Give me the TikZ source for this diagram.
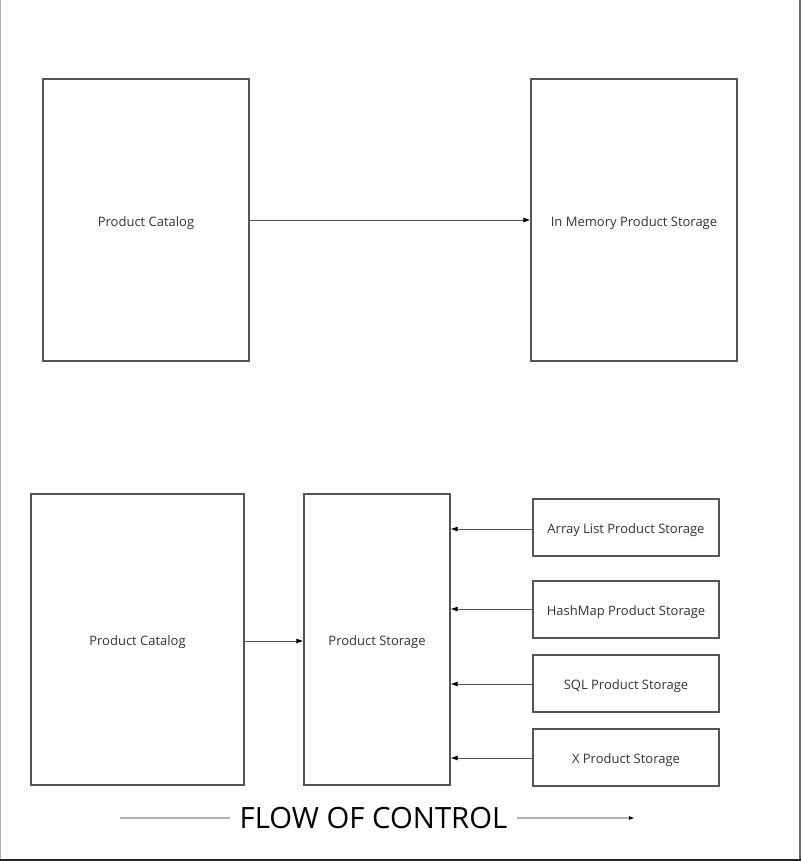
\documentclass[tikz,border=0pt]{standalone}
\usepackage{fontspec}
\setmainfont{Open Sans}
\usetikzlibrary{arrows.meta,calc}
\definecolor{linec}{HTML}{555555}
\definecolor{textc}{HTML}{333333}
\begin{document}
\begin{tikzpicture}[x=1pt,y=-1pt,
  box/.style={draw=linec,line width=1.2pt,inner sep=0pt,text=textc,text height=12pt,text depth=0pt,font=\fontsize{13}{15}\selectfont},
  conn/.style={draw=linec,line width=0.8pt,-{Latex[length=7pt,width=5pt,color=black]}}]
\useasboundingbox (0,0) rectangle (801,861);
\fill[white] (0,0) rectangle (801,861);
% frame
\draw[gray!60,line width=1pt] (0.5,0) -- (0.5,860);
\draw[gray!80!black,line width=1.2pt] (800,0) -- (800,860);
\draw[black!85,line width=2pt] (0,860) -- (801,860);
% top boxes
\node[box,minimum width=206pt,minimum height=282pt] (pc1) at (146,220) {Product Catalog};
\node[box,minimum width=206pt,minimum height=282pt] (ims) at (634,220) {In Memory Product Storage};
\draw[conn] (pc1) -- (ims);
% bottom
\node[box,minimum width=213pt,minimum height=291pt] (pc2) at (137.5,639.5) {Product Catalog};
\node[box,minimum width=146pt,minimum height=291pt] (ps) at (377,639.5) {Product Storage};
\node[box,minimum width=186pt,minimum height=57pt] (al) at (626,527.5) {Array List Product Storage};
\node[box,minimum width=186pt,minimum height=57pt] (hm) at (626,609.5) {HashMap Product Storage};
\node[box,minimum width=186pt,minimum height=57pt] (sql) at (626,683.5) {SQL Product Storage};
\node[box,minimum width=186pt,minimum height=57pt] (xp) at (626,757.5) {X Product Storage};
\draw[conn] (pc2.east |- 0,641) -- (ps.west |- 0,641);
\draw[conn] (al.west |- 0,529) -- (ps.east |- 0,529);
\draw[conn] (hm.west |- 0,609) -- (ps.east |- 0,609);
\draw[conn] (sql.west |- 0,684) -- (ps.east |- 0,684);
\draw[conn] (xp.west |- 0,758) -- (ps.east |- 0,758);
% flow of control
\node[inner sep=0pt,text=black,font=\fontsize{29.3}{34}\selectfont] (foc) at (373.5,818) {FLOW OF CONTROL};
\coordinate (fs) at (120,818);
\coordinate (fe) at (635,818);
\draw[gray!60,line width=1.2pt] (fs) -- ($(foc.west)+(-9,0)$);
\draw[gray!60,line width=1.2pt,-{Latex[length=6pt,width=4pt,color=black]}] ($(foc.east)+(9,0)$) -- (fe);
\end{tikzpicture}
\end{document}
